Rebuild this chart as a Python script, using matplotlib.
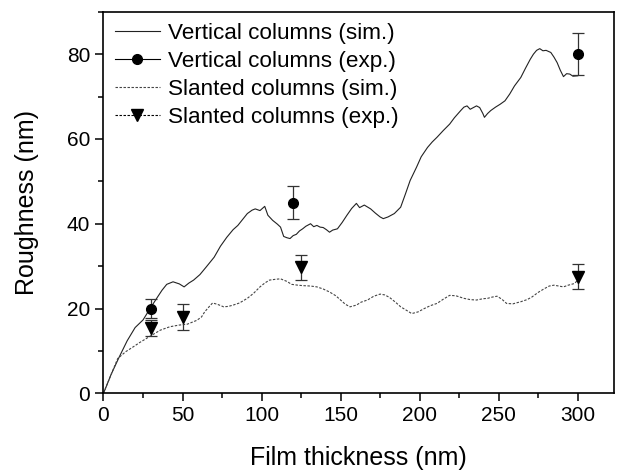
import matplotlib.pyplot as plt
from matplotlib.lines import Line2D
from matplotlib.ticker import MultipleLocator

plt.rcParams['font.family'] = ['Liberation Sans', 'DejaVu Sans']

# simulated roughness, vertical columns
vert_sim_x = [0, 5, 10, 15, 20, 25, 30, 34, 37, 40, 44, 48, 51, 54, 57, 61, 65, 70, 74, 78,
              82, 85, 88, 91, 94, 96, 99, 102, 104, 107, 110, 112, 114, 116, 118, 120, 122,
              124, 126, 128, 131, 133, 135, 137, 139, 141, 143, 145, 148, 151, 154, 157, 160,
              162, 165, 169, 172, 175, 177, 180, 184, 188, 191, 194, 198, 201, 205, 208, 211,
              215, 219, 222, 226, 228, 230, 232, 234, 236, 238, 240, 241, 243, 245, 248, 251,
              254, 257, 260, 264, 267, 270, 272, 274, 276, 278, 280, 283, 285, 287, 289, 291,
              293, 295, 297, 300]
vert_sim_y = [0, 4.6, 8.6, 12.4, 15.5, 17.3, 20.3, 22.6, 24.3, 25.7, 26.3, 25.8, 25.1, 26.0,
              26.7, 28.0, 29.8, 32.1, 34.7, 36.8, 38.6, 39.6, 41.0, 42.4, 43.2, 43.5, 43.1, 44.1,
              42.0, 40.8, 39.9, 39.2, 37.0, 36.7, 36.5, 37.2, 37.5, 38.3, 38.8, 39.4, 40.0, 39.3,
              39.6, 39.2, 39.1, 38.6, 38.0, 38.5, 38.8, 40.3, 42.0, 43.6, 44.8, 43.8, 44.4, 43.5,
              42.5, 41.6, 41.2, 41.6, 42.4, 43.9, 47.0, 50.2, 53.3, 55.8, 58.0, 59.3, 60.4, 62.0,
              63.5, 65.0, 66.7, 67.5, 67.8, 67.0, 67.4, 67.8, 67.4, 66.0, 65.1, 66.0, 66.7, 67.5,
              68.2, 69.0, 70.6, 72.5, 74.5, 76.7, 78.8, 80.0, 80.9, 81.3, 80.8, 80.9, 80.4, 79.3,
              78.0, 76.2, 74.7, 75.4, 75.3, 74.8, 74.9]

# simulated roughness, slanted columns
slant_sim_x = [0, 5, 9, 14, 19, 23, 27, 31, 36, 42, 48, 53, 59, 62, 64, 67, 69, 72, 76, 79,
               82, 86, 91, 95, 99, 102, 105, 109, 112, 116, 119, 123, 126, 131, 135, 139, 143,
               147, 150, 153, 156, 160, 163, 167, 171, 175, 178, 181, 185, 188, 192, 195, 199,
               203, 207, 211, 215, 219, 223, 228, 232, 236, 240, 243, 246, 249, 252, 255, 259,
               264, 268, 271, 275, 279, 282, 285, 288, 291, 294, 298, 300]
slant_sim_y = [0, 4.6, 8.2, 9.8, 11.0, 12.0, 12.9, 13.8, 14.9, 15.7, 16.1, 16.3, 17.2, 18.0,
               19.2, 20.5, 21.3, 21.0, 20.4, 20.5, 20.8, 21.3, 22.4, 23.6, 25.1, 26.0, 26.7,
               26.9, 27.0, 26.4, 25.7, 25.5, 25.4, 25.3, 25.1, 24.6, 23.9, 23.0, 22.0, 21.0, 20.4,
               20.8, 21.5, 22.0, 22.9, 23.4, 23.2, 22.6, 21.4, 20.4, 19.5, 18.8, 19.2, 20.0,
               20.7, 21.2, 22.2, 23.1, 23.0, 22.4, 22.1, 22.0, 22.3, 22.4, 22.7, 22.9, 22.2,
               21.2, 21.1, 21.6, 22.1, 22.7, 23.8, 24.7, 25.3, 25.5, 25.3, 25.1, 25.5, 25.9, 26.7]

# experimental points
vert_exp_x = [30, 120, 300]
vert_exp_y = [20, 45, 80]
vert_exp_err = [2.2, 4, 5]

slant_exp_x = [30, 50, 125, 300]
slant_exp_y = [15.5, 18, 29.7, 27.5]
slant_exp_err = [1.9, 3, 3, 3]

fig = plt.figure(figsize=(6.19, 4.71), dpi=100)
ax = fig.add_axes([0.1672, 0.165, 0.8248, 0.81])

sim_dash = (0, (2.2, 1.4))
ax.plot(vert_sim_x, vert_sim_y, color='#222222', lw=0.8)
ax.plot(slant_sim_x, slant_sim_y, color='#444444', lw=0.8, linestyle=sim_dash)
ax.errorbar(vert_exp_x, vert_exp_y, yerr=vert_exp_err, fmt='o', color='black', ms=7,
            ecolor='#333333', elinewidth=0.9, capsize=4, capthick=0.9)
ax.errorbar(slant_exp_x, slant_exp_y, yerr=slant_exp_err, fmt='v', color='black', ms=8,
            ecolor='#333333', elinewidth=0.9, capsize=4, capthick=0.9)

ax.set_xlim(0, 323)
ax.set_ylim(0, 90)
ax.xaxis.set_major_locator(MultipleLocator(50))
ax.xaxis.set_minor_locator(MultipleLocator(25))
ax.yaxis.set_major_locator(MultipleLocator(20))
ax.yaxis.set_minor_locator(MultipleLocator(10))
ax.tick_params(which='major', direction='out', length=6, width=1.1, labelsize=15)
ax.tick_params(which='minor', direction='out', length=3.5, width=1.1)
for s in ax.spines.values():
    s.set_linewidth(1.2)

ax.set_xlabel('Film thickness (nm)', fontsize=18, labelpad=15)
ax.set_ylabel('Roughness (nm)', fontsize=18, labelpad=20)

handles = [
    Line2D([], [], color='#222222', lw=0.8),
    Line2D([], [], color='black', lw=0.8, marker='o', ms=7),
    Line2D([], [], color='#444444', lw=0.8, linestyle=sim_dash),
    Line2D([], [], color='black', lw=0.8, linestyle=sim_dash, marker='v', ms=8),
]
labels = ['Vertical columns (sim.)', 'Vertical columns (exp.)',
          'Slanted columns (sim.)', 'Slanted columns (exp.)']
ax.legend(handles, labels, loc='upper left', frameon=False, fontsize=16.2,
          handlelength=2.0, handletextpad=0.35, labelspacing=0.31,
          borderaxespad=0.1, bbox_to_anchor=(0.0, 1.0))

fig.savefig('out.png', dpi=100)
